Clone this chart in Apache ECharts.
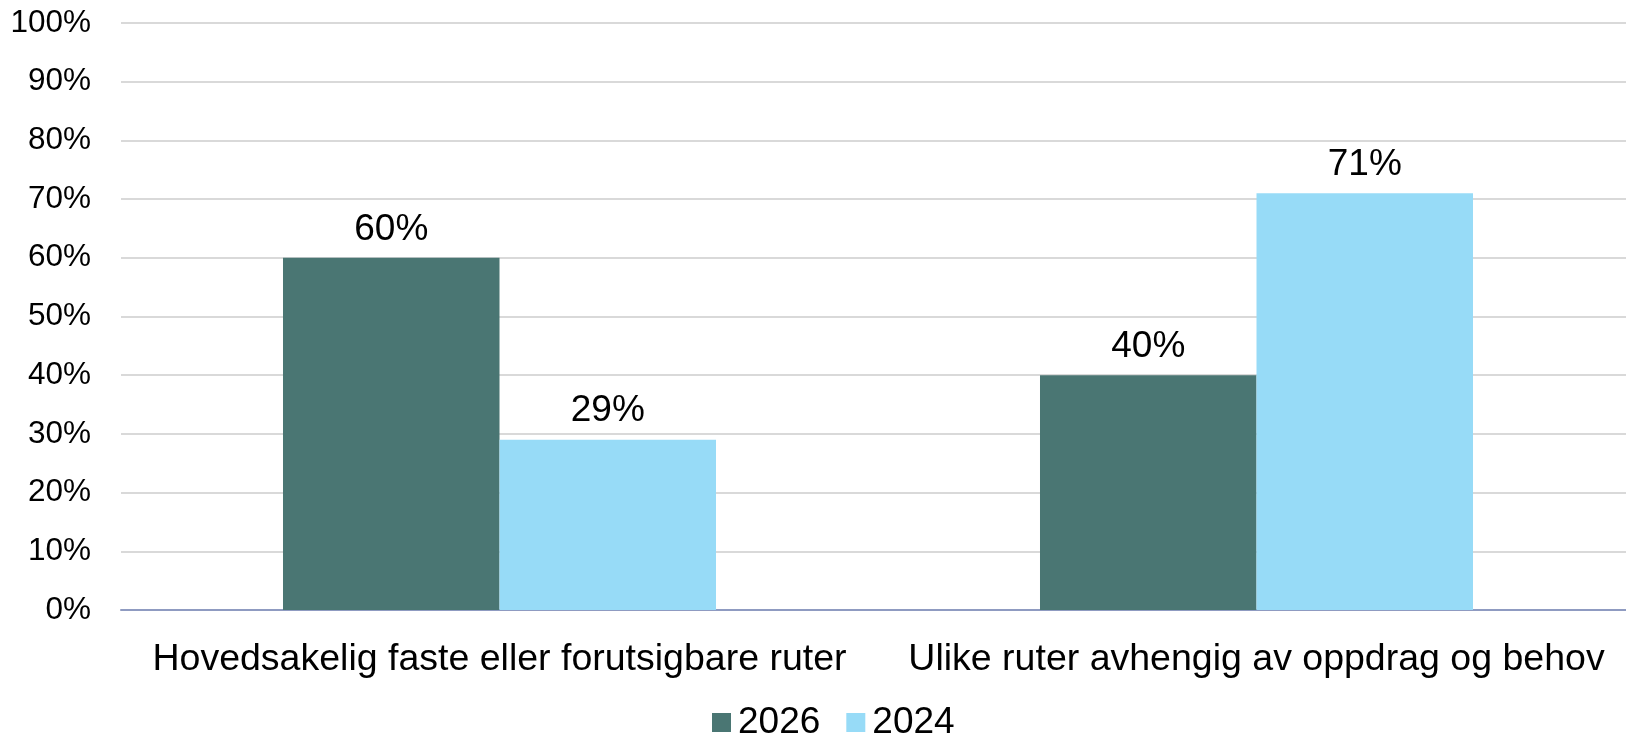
<!DOCTYPE html>
<html>
<head>
<meta charset="utf-8">
<script src="https://cdn.jsdelivr.net/npm/echarts@6/dist/echarts.min.js"></script>
<style>
  html, body { margin: 0; padding: 0; background: #fff; overflow: hidden; }
  #chart { width: 1640px; height: 735px; }
</style>
</head>
<body>
<div id="chart"></div>
<script>
// data
var categories = ['Hovedsakelig faste eller forutsigbare ruter', 'Ulike ruter avhengig av oppdrag og behov'];
var seriesNames = ['2026', '2024'];
var values2026 = [60, 40];
var values2024 = [29, 71];
var yTicks = [0, 10, 20, 30, 40, 50, 60, 70, 80, 90, 100];

var font = '"Liberation Sans", Arial, sans-serif';

// the plot runs a little past the right edge of the window, like the original
var chart = echarts.init(document.getElementById('chart'));
chart.setOption({
  animation: false,
  textStyle: { fontFamily: font },
  grid: {
    left: 121,
    right: 5,
    top: 23,
    bottom: 125
  },
  legend: {
    top: 699,
    left: 707,
    itemWidth: 19,
    itemHeight: 19,
    itemGap: 26,
    icon: 'rect',
    textStyle: { fontSize: 37, color: '#000', fontFamily: font, padding: [0, 0, 0, 2] },
    data: seriesNames
  },
  xAxis: {
    type: 'category',
    data: categories,
    axisTick: { show: false },
    axisLine: { show: true, lineStyle: { color: '#8f9bc1', width: 2 } },
    axisLabel: { fontSize: 37.5, color: '#000', margin: 31, interval: 0, fontFamily: font }
  },
  yAxis: {
    type: 'value',
    min: yTicks[0],
    max: yTicks[yTicks.length - 1],
    interval: yTicks[1] - yTicks[0],
    axisLine: { show: false },
    axisTick: { show: false },
    splitLine: { lineStyle: { color: '#d9d9d9', width: 2 } },
    axisLabel: { fontSize: 31.5, color: '#000', margin: 30, formatter: '{value}%', fontFamily: font }
  },
  series: [
    {
      name: seriesNames[0],
      type: 'bar',
      data: values2026,
      barWidth: '28.6%',
      barGap: '0%',
      itemStyle: { color: '#4a7673' },
      label: { show: true, position: 'top', distance: 10, fontSize: 37, color: '#000', formatter: '{c}%', fontFamily: font }
    },
    {
      name: seriesNames[1],
      type: 'bar',
      data: values2024,
      barWidth: '28.6%',
      itemStyle: { color: '#97dbf7' },
      label: { show: true, position: 'top', distance: 10, fontSize: 37, color: '#000', formatter: '{c}%', fontFamily: font }
    }
  ]
});
</script>
</body>
</html>
